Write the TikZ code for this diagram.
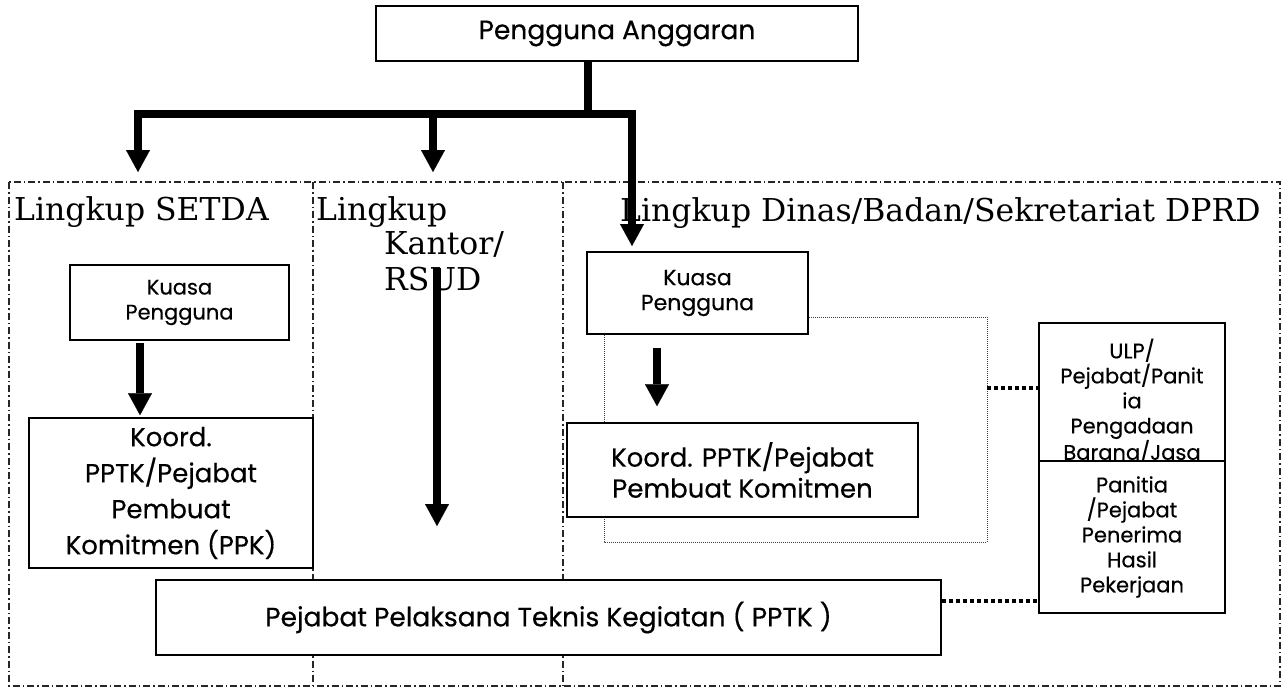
\documentclass[tikz,border=0pt]{standalone}
\usepackage{fontspec}
\setmainfont{Poppins}[FakeBold=0.4]
\newfontfamily\labelfont{DejaVu Serif}
\usetikzlibrary{arrows.meta}

\begin{document}
\begin{tikzpicture}[x=1pt,y=-1pt,
  box/.style={draw=black, line width=1.6pt, fill=white, rectangle, inner sep=0pt,
              align=center, text=black},
  big/.style={font=\fontsize{26.5}{31}\selectfont},
  small/.style={font=\fontsize{21}{25}\selectfont},
  lbl/.style={font=\labelfont\fontsize{31.5}{34}\selectfont, anchor=base west,
              inner sep=0pt, text=black},
  zone/.style={draw=black!85, line width=1.2pt,
               dash pattern=on 7pt off 3pt on 1.5pt off 3pt},
  bar/.style={line width=8pt, draw=black, line join=miter},
  tipped/.style={-{Triangle[width=24pt,length=22pt,line width=0.1pt]}},
  grpline/.style={draw=black!75, line width=1pt, dash pattern=on 1pt off 1pt},
  dotlink/.style={draw=black, line width=4pt, dash pattern=on 4pt off 3pt},
]
\useasboundingbox (0,0) rectangle (1288,689);
\fill[white] (0,0) rectangle (1288,689);

% scope frame with the three areas
\draw[zone] (9,182) rectangle (1280,686);
\draw[zone] (313,182) -- (313,686);
\draw[zone] (563,182) -- (563,686);

% area titles
\node[lbl] (tsetda) at (14,220) {Lingkup SETDA};
\node[lbl] (tkantor1) at (316,220) {Lingkup};
\node[lbl] (tkantor2) at (384,254) {Kantor/};
\node[lbl] (tkantor3) at (384,290) {RSUD};
\node[lbl] (tdinas) at (620,221) {Lingkup Dinas/Badan/Sekretariat DPRD};

% dotted grouping inside the Dinas area
\draw[grpline] (604,317) rectangle (987,542);

% boxes
\node[box, big, minimum width=482pt, minimum height=55pt] (pa) at (617,33.5)
  {Pengguna Anggaran};
\node[box, small, minimum width=219pt, minimum height=75pt] (sk) at (179.5,302.5)
  {Kuasa\\Pengguna};
\node[box, font=\fontsize{26}{36}\selectfont, minimum width=284pt, minimum height=150pt]
  (skoord) at (171,493)
  {Koord.\\PPTK/Pejabat\\Pembuat\\Komitmen (PPK)};
\node[box, small, font=\fontsize{22}{25}\selectfont, minimum width=221pt, minimum height=82pt]
  (dk) at (697.5,293)
  {Kuasa\\Pengguna};
\node[box, font=\fontsize{26}{31}\selectfont, minimum width=351pt, minimum height=94pt]
  (dkoord) at (742.5,470)
  {Koord. PPTK/Pejabat\\Pembuat Komitmen};
\node[box, small, minimum width=186pt, minimum height=158pt] (ulp) at (1132,402)
  {ULP/\\Pejabat/Panit\\ia\\Pengadaan\\Barang/Jasa};
\node[box, small, minimum width=186pt, minimum height=152pt] (pan) at (1132,537)
  {Panitia\\/Pejabat\\Penerima\\Hasil\\Pekerjaan};
\node[box, big, minimum width=785pt, minimum height=75pt] (pptk) at (548.5,617.5)
  {Pejabat Pelaksana Teknis Kegiatan ( PPTK )};

% command lines from the budget user
\coordinate (j) at (588,114);
\coordinate (endsetda) at (138,172);
\coordinate (endkantor) at (433,172);
\coordinate (enddinas) at (632,246);
\draw[bar] (pa.south -| j) -- (j);
\draw[bar, tipped] (j) -| (endsetda);
\draw[bar, tipped] (j) -| (endkantor);
\draw[bar, tipped] (j) -| (enddinas);

% lines inside the areas
\coordinate (ks) at (437,268);
\coordinate (ke) at (437,526);
\draw[bar, tipped] (ks) -- (ke);
\draw[bar, tipped, shorten <=2pt, shorten >=2pt] (sk.south -| 140,0) -- (skoord.north -| 140,0);
\draw[bar, tipped, shorten <=13pt, shorten >=16pt] (dk.south -| 657,0) -- (dkoord.north -| 657,0);

% coordination links
\coordinate (l1) at (0,388);
\coordinate (l2) at (0,601);
\draw[dotlink] (987,388) -- (ulp.west |- l1);
\draw[dotlink] (pptk.east |- l2) -- (pan.west |- l2);
\end{tikzpicture}
\end{document}
